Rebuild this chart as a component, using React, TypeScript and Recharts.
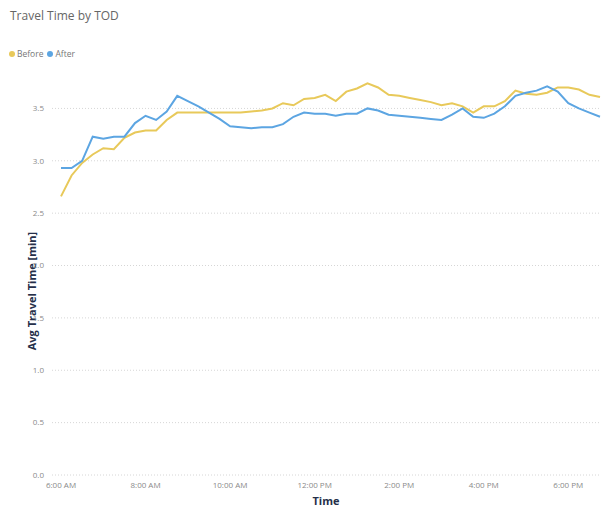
import React from "react";
import { LineChart, Line, XAxis, YAxis, CartesianGrid, Legend } from "recharts";

// Quarter-hour time slots of the day
const times = [
  "06:00", "06:15", "06:30", "06:45", "07:00", "07:15", "07:30", "07:45",
  "08:00", "08:15", "08:30", "08:45", "09:00", "09:15", "09:30", "09:45",
  "10:00", "10:15", "10:30", "10:45", "11:00", "11:15", "11:30", "11:45",
  "12:00", "12:15", "12:30", "12:45", "13:00", "13:15", "13:30", "13:45",
  "14:00", "14:15", "14:30", "14:45", "15:00", "15:15", "15:30", "15:45",
  "16:00", "16:15", "16:30", "16:45", "17:00", "17:15", "17:30", "17:45",
  "18:00", "18:15", "18:30", "18:45",
];

// Average travel time (minutes) before the change
const before = [
  2.66, 2.86, 2.98, 3.06, 3.12, 3.11, 3.22, 3.27, 3.29, 3.29, 3.39, 3.46,
  3.46, 3.46, 3.46, 3.46, 3.46, 3.46, 3.47, 3.48, 3.5, 3.55, 3.53, 3.59,
  3.6, 3.63, 3.57, 3.66, 3.69, 3.74, 3.7, 3.63, 3.62, 3.6, 3.58, 3.56,
  3.53, 3.55, 3.52, 3.46, 3.52, 3.52, 3.57, 3.67, 3.64, 3.63, 3.65, 3.7,
  3.7, 3.68, 3.63, 3.61,
];

// Average travel time (minutes) after the change
const after = [
  2.93, 2.93, 3.0, 3.23, 3.21, 3.23, 3.23, 3.36, 3.43, 3.39, 3.47, 3.62,
  3.57, 3.52, 3.46, 3.4, 3.33, 3.32, 3.31, 3.32, 3.32, 3.35, 3.42, 3.46,
  3.45, 3.45, 3.43, 3.45, 3.45, 3.5, 3.48, 3.44, 3.43, 3.42, 3.41, 3.4,
  3.39, 3.44, 3.5, 3.42, 3.41, 3.45, 3.52, 3.62, 3.65, 3.67, 3.71, 3.66,
  3.55, 3.5, 3.46, 3.42,
];

const seriesOrder = ["Before", "After"];
const xTicks = ["06:00", "08:00", "10:00", "12:00", "14:00", "16:00", "18:00"];
const yTicks = [0, 0.5, 1, 1.5, 2, 2.5, 3, 3.5];

const toMinutes = (t: string) => {
  const [h, m] = t.split(":").map(Number);
  return h * 60 + m;
};

const formatClock = (mins: number) => {
  const h = Math.floor(mins / 60);
  const m = mins % 60;
  const suffix = h >= 12 ? "PM" : "AM";
  const h12 = h % 12 === 0 ? 12 : h % 12;
  return `${h12}:${String(m).padStart(2, "0")} ${suffix}`;
};

const data = times.map((t, i) => ({
  minute: toMinutes(t),
  Before: before[i],
  After: after[i],
}));

const FONT = "'Open Sans', 'Noto Sans', sans-serif";
const YELLOW = "#E8C95A";
const BLUE = "#5CA5E2";
const AXIS_TITLE = "#252F4A";

const YTitle = (props: any) => {
  const vb = props.viewBox || {};
  const x = 31;
  const y = (vb.y ?? 0) + (vb.height ?? 0) / 2 + 15;
  return (
    <text
      x={x}
      y={y}
      transform={`rotate(-90, ${x}, ${y})`}
      textAnchor="middle"
      dominantBaseline="central"
      fontFamily={FONT}
      fontSize={11}
      fontWeight={700}
      fill={AXIS_TITLE}
    >
      Avg Travel Time [min]
    </text>
  );
};

// Legend rendered in series order with small round markers
const LegendContent = (props: any) => {
  const items = [...(props.payload || [])].sort(
    (a: any, b: any) =>
      seriesOrder.indexOf(a.value) - seriesOrder.indexOf(b.value)
  );
  return (
    <div style={{ display: "flex", alignItems: "center", gap: 4 }}>
      {items.map((it: any) => (
        <div
          key={it.value}
          style={{ display: "flex", alignItems: "center", gap: 2 }}
        >
          <span
            style={{
              display: "inline-block",
              width: 6,
              height: 6,
              borderRadius: 3,
              background: it.color,
            }}
          />
          <span style={{ color: "#777", fontSize: 8.5, fontFamily: FONT }}>
            {it.value}
          </span>
        </div>
      ))}
    </div>
  );
};

export default function App() {
  return (
    <div
      style={{
        position: "absolute",
        left: 0,
        top: 0,
        width: 603,
        height: 508,
        background: "#fff",
        fontFamily: FONT,
      }}
    >
      <div
        style={{
          position: "absolute",
          left: 10,
          top: 7,
          fontSize: 12,
          color: "#666",
          fontFamily: FONT,
        }}
      >
        Travel Time by TOD
      </div>
      <LineChart
        width={603}
        height={508}
        data={data}
        margin={{ top: 65, right: 3, bottom: 0, left: 0 }}
      >
        <CartesianGrid
          vertical={false}
          stroke="#d6d6d6"
          strokeDasharray="1 2"
          horizontalValues={yTicks}
        />
        <XAxis
          dataKey="minute"
          type="number"
          domain={[toMinutes("06:00"), toMinutes("18:45")]}
          ticks={xTicks.map(toMinutes)}
          tickFormatter={formatClock}
          padding={{ left: 9, right: 0 }}
          axisLine={false}
          tickLine={false}
          height={33}
          tick={{ fontSize: 8, fill: "#8a8a8a", fontFamily: FONT }}
          tickMargin={1}
          interval={0}
          label={{
            value: "Time",
            position: "insideBottom",
            offset: 3,
            fontSize: 11,
            fontWeight: 700,
            fill: AXIS_TITLE,
            fontFamily: FONT,
          }}
        />
        <YAxis
          type="number"
          domain={[0, 3.8]}
          ticks={yTicks}
          tickFormatter={(v: number) => v.toFixed(1)}
          axisLine={false}
          tickLine={false}
          width={52}
          tick={{ fontSize: 8, fill: "#8a8a8a", fontFamily: FONT }}
          label={<YTitle />}
        />
        <Legend
          verticalAlign="top"
          align="left"
          content={<LegendContent />}
          wrapperStyle={{
            position: "absolute",
            top: 48,
            left: 9,
            width: "auto",
            lineHeight: "12px",
          }}
        />
        <Line
          type="linear"
          dataKey="Before"
          stroke={YELLOW}
          strokeWidth={2}
          dot={false}
          isAnimationActive={false}
        />
        <Line
          type="linear"
          dataKey="After"
          stroke={BLUE}
          strokeWidth={2}
          dot={false}
          isAnimationActive={false}
        />
      </LineChart>
    </div>
  );
}
